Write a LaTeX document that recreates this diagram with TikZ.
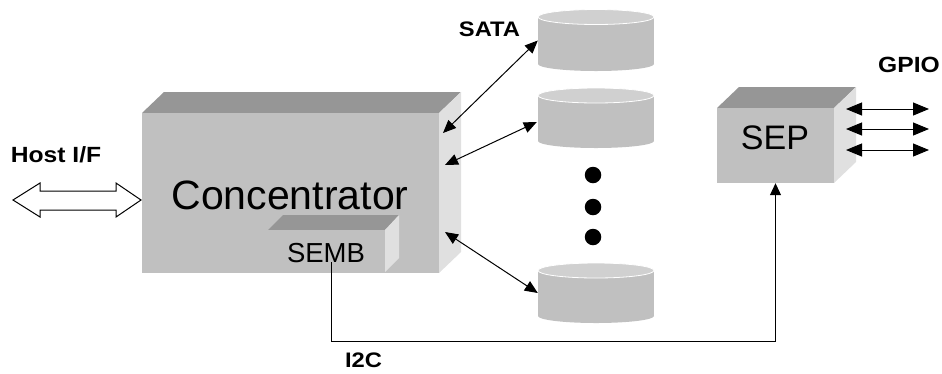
\documentclass[tikz,border=0pt]{standalone}
\usepackage{fontspec}
\setmainfont{Liberation Sans}
\usetikzlibrary{arrows.meta,calc}
\definecolor{frontc}{HTML}{C0C0C0}
\definecolor{topc}{HTML}{969696}
\definecolor{sidec}{HTML}{E0E0E0}
\definecolor{cyltopc}{HTML}{D0D0D0}
\tikzset{
  face/.style={fill=frontc, draw=none, inner sep=0pt},
  lbl/.style={inner sep=0pt, text=black},
  conn/.style={line width=1pt, {Triangle[length=13pt,width=11pt]}-{Triangle[length=13pt,width=11pt]}},
  gpioarr/.style={line width=1pt, {Triangle[length=16pt,width=13pt]}-{Triangle[length=16pt,width=13pt]}},
  dotnode/.style={circle, fill=black, inner sep=0pt, minimum size=16.5pt},
  cylbody/.style={inner sep=0pt, minimum width=116pt, minimum height=46pt}
}
\begin{document}
\begin{tikzpicture}[x=1pt,y=-1pt]
\useasboundingbox (0,0) rectangle (942,373);

% ---- Concentrator box
\fill[topc] (142,113) -- (164,92) -- (461,92) -- (439,113) -- cycle;
\fill[sidec] (439,113) -- (461,92) -- (461,252) -- (439,273) -- cycle;
\node[face, minimum width=297pt, minimum height=160pt] (conc) at (290.5,193) {};
\node[lbl] (conctext) at (290,195) {\fontsize{41}{41}\selectfont Concentrator};

% ---- SEMB box
\fill[topc] (268,230) -- (283,215) -- (399,215) -- (385,230) -- cycle;
\fill[sidec] (385,230) -- (399,215) -- (399,258) -- (385,272) -- cycle;
\node[face, minimum width=117pt, minimum height=42pt] (semb) at (326.5,251) {};
\node[lbl] (sembtext) at (326,253) {\fontsize{27.5}{27.5}\selectfont SEMB};

% ---- SEP box
\fill[topc] (717,108) -- (739,87) -- (856,87) -- (834,108) -- cycle;
\fill[sidec] (834,108) -- (856,87) -- (856,162) -- (834,183) -- cycle;
\node[face, minimum width=117pt, minimum height=75pt] (sep) at (775.5,145.5) {};
\node[lbl] (septext) at (775,137.5) {\fontsize{34}{34}\selectfont SEP};

% ---- Disks
\foreach \n/\t/\b in {1/17/64, 2/95.5/141, 3/270.5/316} {
  \fill[frontc] (538,\t) rectangle (654,\b);
  \fill[frontc] (596,\b) ellipse [x radius=58pt, y radius=7pt];
  \filldraw[fill=cyltopc, draw=white, line width=0.8pt] (596,\t) ellipse [x radius=58pt, y radius=7.5pt];
}
\node[cylbody] (cyl1) at (596,40.5) {};
\node[cylbody] (cyl2) at (596,120) {};
\node[cylbody] (cyl3) at (596,293) {};

\node[dotnode] (dot1) at (593,175) {};
\node[dotnode] (dot2) at (593,207) {};
\node[dotnode] (dot3) at (593,237) {};

% ---- SATA connectors
\coordinate (s1) at (443,133);
\coordinate (s2) at (445,165);
\coordinate (s3) at (445,232);
\draw[conn] (s1) -- (cyl1.west);
\draw[conn] (s2) -- ($(cyl2.west)+(-1,2)$);
\draw[conn] (s3) -- (cyl3.west);

% ---- GPIO connectors
\coordinate (g1) at (846,109);
\coordinate (g2) at (846,129);
\coordinate (g3) at (846,150);
\coordinate (h1) at (929,109);
\coordinate (h2) at (929,129);
\coordinate (h3) at (929,150);
\draw[gpioarr] (g1) -- (h1);
\draw[gpioarr] (g2) -- (h2);
\draw[gpioarr] (g3) -- (h3);

% ---- I2C
\coordinate (i2cs) at (331,262);
\coordinate (i2cc) at (331,341);
\draw[line width=1pt, -{Triangle[length=12pt,width=11pt]}] (i2cs) -- (i2cc) -| (sep.south);

% ---- Host I/F arrow
\coordinate (hostl) at (13,200);
\coordinate (hostr) at (141,200);
\filldraw[fill=white, draw=black, line width=1pt]
  (hostl) -- (40,183) -- (40,191) -- (116,191) -- (116,183) -- (hostr)
  -- (116,217) -- (116,210) -- (40,210) -- (40,217) -- cycle;

% ---- Labels
\node[lbl] (hostlbl) at (56,155) {\scalebox{1.12}[1]{\fontsize{22}{22}\selectfont\bfseries Host I/F}};
\node[lbl] (satalbl) at (489.5,29.5) {\scalebox{1.13}[1]{\fontsize{21}{21}\selectfont\bfseries SATA}};
\node[lbl] (gpiolbl) at (909,65) {\scalebox{1.12}[1]{\fontsize{22}{22}\selectfont\bfseries GPIO}};
\node[lbl] (i2clbl) at (363.5,360.5) {\scalebox{1.13}[1]{\fontsize{21}{21}\selectfont\bfseries I2C}};
\end{tikzpicture}
\end{document}
